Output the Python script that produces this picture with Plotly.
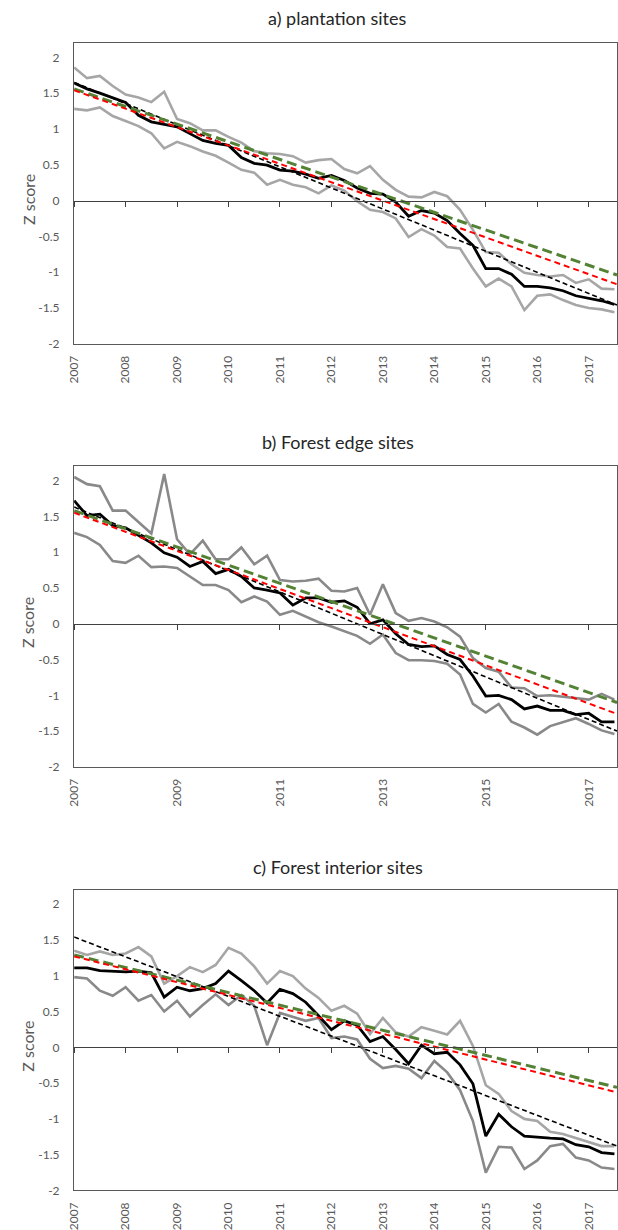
import plotly.graph_objects as go

# ---------------- data ----------------
START_YEAR = 2007
STEP = 0.25  # quarterly
N = 43
x_vals = [START_YEAR + STEP * i for i in range(N)]
trend_x = [2007.0, 2017.55]

panel_titles = ["a) plantation sites", "b) Forest edge sites", "c) Forest interior sites"]
y_tick_vals = [-2, -1.5, -1, -0.5, 0, 0.5, 1, 1.5, 2]
y_tick_text = ["-2", "-1.5", "-1", "-0.5", "0", "0.5", "1", "1.5", "2"]
x_ticks_yearly = [2007, 2008, 2009, 2010, 2011, 2012, 2013, 2014, 2015, 2016, 2017]
x_ticks_biyearly = [2007, 2009, 2011, 2013, 2015, 2017]

upper_a = [1.86, 1.71, 1.74, 1.60, 1.48, 1.44, 1.375, 1.52, 1.14, 1.08, 0.98, 0.98, 0.89, 0.81,
           0.69, 0.66, 0.65, 0.62, 0.53, 0.565, 0.58, 0.44, 0.38, 0.48, 0.29, 0.15, 0.055, 0.045,
           0.12, 0.06, -0.13, -0.41, -0.72, -0.73, -0.89, -1.01, -1.04, -1.06, -1.04, -1.15,
           -1.10, -1.23, -1.24]
lower_a = [1.28, 1.26, 1.30, 1.18, 1.11, 1.04, 0.94, 0.73, 0.82, 0.76, 0.685, 0.625, 0.53, 0.43,
           0.39, 0.22, 0.29, 0.22, 0.185, 0.10, 0.21, 0.14, -0.01, -0.13, -0.16, -0.25, -0.51,
           -0.40, -0.49, -0.65, -0.67, -0.95, -1.20, -1.09, -1.20, -1.53, -1.33, -1.31, -1.39,
           -1.46, -1.50, -1.52, -1.56]
mean_a = [1.64, 1.56, 1.50, 1.44, 1.37, 1.19, 1.10, 1.065, 1.03, 0.935, 0.84, 0.80, 0.77, 0.60,
          0.52, 0.495, 0.425, 0.41, 0.37, 0.31, 0.35, 0.28, 0.175, 0.10, 0.09, -0.02, -0.22,
          -0.14, -0.175, -0.28, -0.46, -0.625, -0.95, -0.95, -1.03, -1.20, -1.20, -1.22, -1.26,
          -1.33, -1.36, -1.40, -1.45]

upper_b = [2.05, 1.95, 1.92, 1.58, 1.58, 1.42, 1.26, 2.09, 1.18, 0.97, 1.16, 0.90, 0.90, 1.065,
           0.83, 0.95, 0.61, 0.59, 0.60, 0.63, 0.46, 0.45, 0.50, 0.125, 0.55, 0.15, 0.04, 0.08,
           0.03, -0.05, -0.18, -0.48, -0.62, -0.67, -0.89, -0.90, -1.01, -1.00, -1.02, -1.04,
           -1.06, -0.98, -1.06]
lower_b = [1.27, 1.21, 1.10, 0.875, 0.85, 0.95, 0.79, 0.80, 0.78, 0.66, 0.54, 0.54, 0.47, 0.30,
           0.38, 0.31, 0.125, 0.18, 0.10, 0.02, -0.04, -0.10, -0.17, -0.28, -0.15, -0.41, -0.51,
           -0.51, -0.52, -0.56, -0.71, -1.12, -1.24, -1.12, -1.37, -1.45, -1.55, -1.43, -1.37,
           -1.32, -1.40, -1.49, -1.54]
mean_b = [1.72, 1.51, 1.53, 1.37, 1.34, 1.24, 1.13, 0.99, 0.93, 0.80, 0.87, 0.70, 0.76, 0.66,
          0.50, 0.47, 0.43, 0.26, 0.36, 0.36, 0.30, 0.32, 0.23, 0.0, 0.055, -0.14, -0.29, -0.32,
          -0.31, -0.43, -0.50, -0.73, -1.01, -1.00, -1.06, -1.19, -1.15, -1.21, -1.21, -1.27,
          -1.25, -1.37, -1.37]

upper_c = [1.35, 1.29, 1.34, 1.29, 1.31, 1.40, 1.27, 0.89, 0.995, 1.12, 1.05, 1.15, 1.39, 1.31,
           1.13, 0.89, 1.065, 0.995, 0.82, 0.69, 0.51, 0.58, 0.47, 0.185, 0.41, 0.21, 0.15, 0.28,
           0.23, 0.18, 0.37, 0.02, -0.53, -0.65, -0.89, -1.00, -1.03, -1.18, -1.21, -1.27,
           -1.32, -1.38, -1.38]
lower_c = [0.98, 0.96, 0.79, 0.72, 0.84, 0.65, 0.73, 0.50, 0.65, 0.43, 0.59, 0.74, 0.59, 0.73,
           0.58, 0.03, 0.48, 0.42, 0.37, 0.41, 0.13, 0.15, 0.11, -0.16, -0.29, -0.26, -0.30,
           -0.43, -0.19, -0.35, -0.60, -1.03, -1.75, -1.39, -1.40, -1.70, -1.58, -1.38, -1.35,
           -1.54, -1.58, -1.68, -1.70]
mean_c = [1.11, 1.11, 1.07, 1.065, 1.055, 1.065, 1.04, 0.70, 0.84, 0.79, 0.82, 0.89, 1.065, 0.93,
          0.79, 0.62, 0.81, 0.75, 0.63, 0.44, 0.245, 0.37, 0.31, 0.08, 0.15, -0.03, -0.23, 0.03,
          -0.09, -0.07, -0.245, -0.51, -1.24, -0.935, -1.11, -1.24, -1.26, -1.27, -1.28, -1.36,
          -1.39, -1.47, -1.49]

# linear trend lines: values at the start and end of the time axis
trend_black = [[1.65, -1.46], [1.63, -1.50], [1.54, -1.38]]
trend_red = [[1.54, -1.17], [1.55, -1.26], [1.27, -0.63]]
trend_green = [[1.56, -1.04], [1.58, -1.10], [1.29, -0.56]]

# ---------------- styling / layout ----------------
W, H = 618, 1230
LIGHT = "#a6a6a6"
DARK = "#898989"
upper_colors = [LIGHT, DARK, LIGHT]
lower_colors = [LIGHT, DARK, DARK]
uppers = [upper_a, upper_b, upper_c]
lowers = [lower_a, lower_b, lower_c]
means = [mean_a, mean_b, mean_c]
x_ticks = [x_ticks_yearly, x_ticks_biyearly, x_ticks_yearly]

Y_RANGE = [-2, 2.2]
X_RANGE = [2007, 2017.55]
FONT = "Lato, 'Open Sans', sans-serif"
AXIS_GREY = "#595959"

box_px = [(43.3, 345.7), (468.9, 771.3), (894.9, 1197.3)]  # top, bottom in pixels
title_px = [18, 445, 872]
x_dom = [67 / W, 617 / W]

fig = go.Figure()
layout = dict(
    width=W, height=H,
    margin=dict(l=0, r=0, t=0, b=0),
    paper_bgcolor="white", plot_bgcolor="white",
    showlegend=False,
    font=dict(family=FONT, color=AXIS_GREY, size=12),
)
annotations = []

for p in range(3):
    top_px, bot_px = box_px[p]
    y_dom = [1 - bot_px / H, 1 - top_px / H]
    xa = "x" if p == 0 else f"x{p + 1}"
    ya = "y" if p == 0 else f"y{p + 1}"
    zx = f"x{p + 4}"
    xkey = "xaxis" if p == 0 else f"xaxis{p + 1}"
    ykey = "yaxis" if p == 0 else f"yaxis{p + 1}"
    zkey = f"xaxis{p + 4}"

    layout[xkey] = dict(
        domain=x_dom, range=X_RANGE, anchor=ya,
        tickmode="array", tickvals=x_ticks[p], ticktext=[str(v) for v in x_ticks[p]],
        tickangle=-90, ticks="", ticklabelstandoff=6,
        tickfont=dict(family=FONT, size=12, color=AXIS_GREY),
        showgrid=False, zeroline=False,
        showline=True, linecolor=AXIS_GREY, linewidth=1.3, mirror=True,
    )
    layout[ykey] = dict(
        domain=y_dom, range=Y_RANGE, anchor=xa,
        tickmode="array", tickvals=y_tick_vals, ticktext=y_tick_text,
        ticks="", ticklabelstandoff=11,
        tickfont=dict(family=FONT, size=12, color=AXIS_GREY),
        showgrid=False, zeroline=False,
        showline=True, linecolor=AXIS_GREY, linewidth=1.3, mirror=True,
    )
    zero_frac = (0 - Y_RANGE[0]) / (Y_RANGE[1] - Y_RANGE[0])
    layout[zkey] = dict(
        domain=x_dom, range=X_RANGE, overlaying=xa, anchor="free",
        position=y_dom[0] + zero_frac * (y_dom[1] - y_dom[0]),
        side="bottom",
        tickmode="array", tickvals=x_ticks[p],
        ticks="outside", ticklen=5, tickwidth=1, tickcolor="#404040",
        showticklabels=False, showgrid=False, zeroline=False,
        showline=True, linecolor="#404040", linewidth=1.2,
    )

    # grey envelope lines
    fig.add_trace(go.Scatter(x=x_vals, y=uppers[p], mode="lines", xaxis=xa, yaxis=ya,
                             line=dict(color=upper_colors[p], width=2.6), hoverinfo="skip"))
    fig.add_trace(go.Scatter(x=x_vals, y=lowers[p], mode="lines", xaxis=xa, yaxis=ya,
                             line=dict(color=lower_colors[p], width=2.6), hoverinfo="skip"))
    # mean line
    fig.add_trace(go.Scatter(x=x_vals, y=means[p], mode="lines", xaxis=xa, yaxis=ya,
                             line=dict(color="black", width=2.8), hoverinfo="skip"))
    # trend lines
    fig.add_trace(go.Scatter(x=trend_x, y=trend_black[p], mode="lines", xaxis=xa, yaxis=ya,
                             line=dict(color="black", width=1.6, dash="5px,3px"), hoverinfo="skip"))
    fig.add_trace(go.Scatter(x=trend_x, y=trend_green[p], mode="lines", xaxis=xa, yaxis=ya,
                             line=dict(color="#548235", width=3, dash="10px,5px"), hoverinfo="skip"))
    fig.add_trace(go.Scatter(x=trend_x, y=trend_red[p], mode="lines", xaxis=xa, yaxis=ya,
                             line=dict(color="#ff0000", width=2, dash="6px,4px"), hoverinfo="skip"))
    # helper (invisible) trace so that the zero-line axis gets drawn
    fig.add_trace(go.Scatter(x=[X_RANGE[0]], y=[0], mode="markers", xaxis=zx, yaxis=ya,
                             marker=dict(size=1, opacity=0), hoverinfo="skip"))

    annotations.append(dict(text=panel_titles[p], xref="paper", yref="paper",
                            x=334 / W, y=1 - title_px[p] / H, showarrow=False,
                            xanchor="center", yanchor="middle",
                            font=dict(family=FONT, size=18, color="#262626")))
    annotations.append(dict(text="Z score", xref="paper", yref="paper",
                            x=20 / W, y=1 - (box_px[p][0] + 157) / H, showarrow=False,
                            textangle=-90, xanchor="center", yanchor="middle",
                            font=dict(family=FONT, size=16, color=AXIS_GREY)))

layout["annotations"] = annotations
fig.update_layout(**layout)
fig.write_html("out.html",
               config={"displayModeBar": False},
               post_script="document.body.style.margin='0px';document.body.style.overflow='hidden';")
